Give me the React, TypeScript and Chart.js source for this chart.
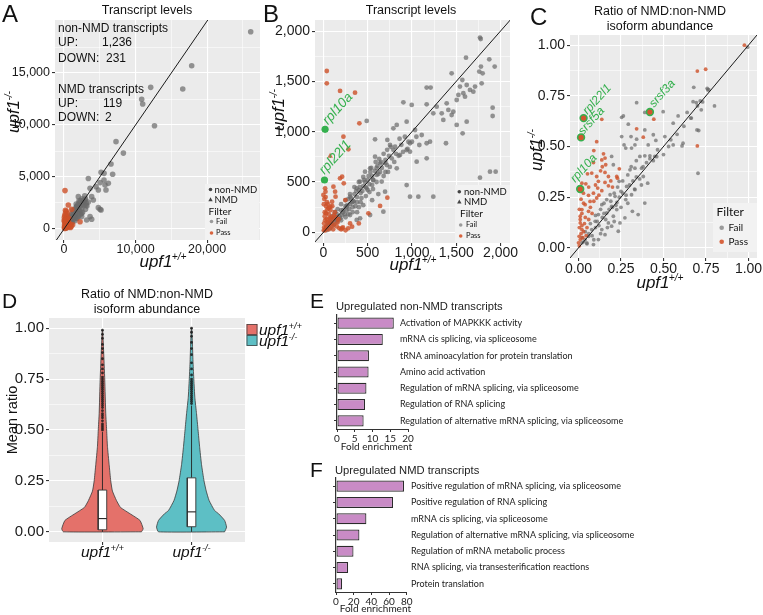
import React, { useEffect, useRef } from "react";
import { Chart, registerables } from "chart.js";

Chart.register(...registerables);

const PAGE_W = 763;
const PAGE_H = 615;
const CW = 820;
const CH = 660;
const FONT = "'Liberation Sans', Arial, Helvetica, sans-serif";
const LFONT = "Lato, 'Open Sans', 'Liberation Sans', sans-serif";
Chart.defaults.font.family = FONT;

const GRAY = "rgba(105,105,105,0.7)";
const ORANGE = "rgba(205,80,40,0.8)";
const GREEN = "#35B04E";
const PANEL_BG = "#EBEBEB";
const BAR = "#C98BC6";

// ---------------- Panel A : transcript levels (full range)
const aXMajor = [0, 10000, 20000];
const aXMinor = [5000, 15000, 25000];
const aYMajor = [0, 5000, 10000, 15000];
const aYMinor = [2500, 7500, 12500, 17500];
const aIdentity = [[-3000, -3000], [40000, 40000]];
const aFail = [[26100,18970],[17850,15700],[12120,13620],[16600,13460],[10860,12470],[11000,12020],[12650,9930],[7270,8400],[8300,7300],[6570,6250],[5600,5350],[5180,5450],[6800,5260],[3400,4850],[5590,4710],[5040,4460],[5730,4230],[6200,4390],[4480,4070],[3640,3910],[4800,3750],[5870,3750],[3870,3110],[4100,2790],[2940,2790],[2700,2790],[3080,2310],[4800,2050],[5040,1890],[5180,1830],[2000,3110],[1770,2150],[2470,1510],[1770,1830],[2470,1190],[3640,1190],[3170,870],[3870,930],[1770,1030],[840,870],[370,550],[200,250],[400,380],[600,520],[800,700],[1000,950],[1200,1100],[1400,1350],[1600,1500],[1800,1700],[2000,1900],[2200,2100],[2400,2300],[2600,2500],[2800,2700],[3000,2900],[500,700],[700,900],[900,1200],[1100,1400],[1300,1600],[1500,1900],[1700,2100],[1900,2300],[2100,2500],[2300,2700],[1000,700],[1300,900],[1600,1200],[1900,1500],[2200,1700],[2500,2000],[2800,2300],[3100,2500],[700,400],[1000,500],[1500,800],[2000,1200],[2600,1600],[3200,2200],[3400,2600],[2900,3200],[2500,2900],[2100,2700],[1700,2400],[1200,1800],[800,1300],[300,150],[150,80],[1150,650],[1800,1000],[2300,1400],[3000,1900]];
const aPass = [[140,3690],[1070,1890],[2240,700],[600,2300],[300,1700],[200,1500],[100,1300],[400,1200],[250,1000],[150,900],[500,950],[350,800],[100,700],[600,700],[200,600],[450,550],[300,450],[80,400],[150,300],[500,300],[250,200],[50,150],[700,200],[350,100],[100,50],[900,150],[600,450],[800,500],[50,1100],[200,1800],[500,1500],[20,800],[700,1000],[400,300],[1200,400],[1000,250]];
const aSummary = [
  ["non-NMD transcripts", ""],
  ["UP:", "1,236"],
  ["DOWN:", "231"],
  ["NMD transcripts", ""],
  ["UP:", "119"],
  ["DOWN:", "2"],
];

// ---------------- Panel B : transcript levels (zoom)
const bMajor = [0, 500, 1000, 1500, 2000];
const bMinor = [250, 750, 1250, 1750];
const bIdentity = [[-300, -300], [2500, 2500]];
const bFail = [[1768,1935],[1776,1921],[1610,1736],[1873,1719],[1934,1647],[1448,1580],[1779,1647],[1760,1597],[1798,1580],[1569,1514],[1787,1481],[1618,1464],[1542,1448],[1712,1448],[1655,1415],[1580,1382],[1524,1365],[1693,1398],[1599,1348],[1505,1315],[1392,1282],[1467,1199],[1166,1438],[1211,1438],[903,1292],[997,1266],[1166,1272],[1279,1249],[1336,1183],[1241,1183],[1411,1216],[1448,1166],[1354,1117],[1911,1239],[1911,1156],[1881,603],[1945,603],[1768,543],[1572,984],[1505,1067],[1618,1100],[1384,885],[489,1107],[583,924],[722,918],[790,1034],[828,1067],[940,1100],[1035,1017],[1110,967],[1166,885],[1204,901],[1083,868],[752,868],[809,851],[940,818],[978,802],[865,769],[978,885],[771,735],[1053,702],[1166,735],[715,669],[828,636],[940,470],[1072,354],[1241,354],[696,404],[583,752],[640,686],[527,636],[470,603],[602,570],[564,520],[658,504],[414,504],[489,437],[376,437],[301,354],[339,305],[263,255],[226,222],[301,172],[376,123],[188,139],[113,73],[150,106],[75,40],[38,23],[414,139],[527,172],[677,205],[978,354],[250,260],[300,280],[200,220],[350,380],[400,420],[450,460],[500,520],[550,560],[600,640],[650,700],[700,720],[280,330],[320,300],[380,350],[420,390],[480,450],[520,480],[560,520],[620,580],[150,180],[180,160],[220,200],[120,140],[80,100],[60,70],[100,90],[140,120],[260,220],[340,310],[440,410],[470,500],[530,600],[580,610],[610,660],[660,640],[700,690],[740,760],[790,820],[820,780],[880,870],[860,930],[920,950],[960,900],[640,600],[300,380],[350,450],[400,500],[450,550],[380,300],[430,340],[500,420],[550,470],[600,500],[250,320],[200,280],[160,230],[240,180],[290,230],[330,250],[360,260],[420,300],[480,360],[520,400],[560,430],[170,130],[210,170],[270,270],[310,340],[370,410],[410,450],[460,520],[510,560],[540,640],[590,700],[630,730],[680,780],[720,820],[760,850],[700,600],[750,650],[800,700],[850,760],[900,800],[950,830],[1000,900],[1050,950],[680,560],[730,600],[100,160],[130,200],[90,130],[50,90],[30,50],[200,120],[250,150],[330,200],[280,180],[400,250],[450,270],[550,320],[620,380],[380,200]];
const bPass = [[38,1603],[38,1481],[188,1405],[357,1388],[406,1083],[226,951],[282,825],[188,537],[113,454],[19,437],[132,404],[0,371],[640,262],[508,189],[722,344],[301,89],[211,553],[230,487],[23,404],[98,304],[137,354],[79,255],[248,321],[211,40],[324,56],[400,89],[10,50],[20,120],[15,200],[30,260],[40,300],[25,350],[60,180],[80,220],[50,100],[90,150],[5,20],[35,60],[70,90],[100,120],[120,80],[150,60],[180,40],[200,30],[220,50],[60,30],[5,280],[10,330],[45,230],[15,160],[100,260],[130,200],[60,240],[20,20],[110,30],[160,100],[140,150],[30,190],[70,140],[90,60],[120,170],[50,280],[8,90],[40,130],[170,130],[250,20],[280,40]];
const bPassNmd = [[76,758]];
const bGreen = [[19,1024],[12,520]];
const bGreenNames = ["rpl10a", "rpl22l1"];

// ---------------- Panel C : NMD:non-NMD ratio scatter
const cMajor = [0, 0.25, 0.5, 0.75, 1];
const cMinor = [0.125, 0.375, 0.625, 0.875];
const cIdentity = [[-0.2, -0.2], [1.2, 1.2]];
const cFail = [[0.995,0.99],[0.678,0.792],[0.757,0.787],[0.766,0.78],[0.674,0.721],[0.716,0.725],[0.693,0.716],[0.8,0.7],[0.722,0.681],[0.342,0.716],[0.39,0.668],[0.498,0.672],[0.586,0.651],[0.557,0.615],[0.639,0.668],[0.664,0.64],[0.697,0.582],[0.707,0.579],[0.254,0.644],[0.264,0.651],[0.293,0.61],[0.254,0.549],[0.309,0.549],[0.342,0.536],[0.332,0.508],[0.278,0.492],[0.312,0.492],[0.39,0.582],[0.44,0.558],[0.455,0.53],[0.508,0.549],[0.41,0.508],[0.39,0.454],[0.42,0.454],[0.449,0.451],[0.615,0.516],[0.609,0.503],[0.557,0.508],[0.543,0.533],[0.465,0.484],[0.361,0.451],[0.195,0.451],[0.205,0.41],[0.371,0.393],[0.303,0.385],[0.332,0.393],[0.381,0.352],[0.407,0.319],[0.268,0.508],[0.703,0.368],[0.239,0.328],[0.283,0.303],[0.25,0.279],[0.312,0.262],[0.332,0.287],[0.278,0.238],[0.317,0.18],[0.186,0.262],[0.215,0.254],[0.166,0.238],[0.137,0.213],[0.195,0.205],[0.225,0.189],[0.166,0.172],[0.117,0.164],[0.098,0.131],[0.205,0.156],[0.244,0.123],[0.234,0.082],[0.195,0.107],[0.137,0.09],[0.078,0.09],[0.059,0.057],[0.039,0.041],[0.02,0.025],[0.117,0.041],[0.088,0.016],[0.156,0.065],[0.049,0.024],[0.176,0.123],[0.273,0.148],[0.351,0.164],[0.39,0.221],[0.226,0.224],[0.03,0.03],[0.06,0.07],[0.08,0.06],[0.1,0.1],[0.12,0.11],[0.14,0.15],[0.16,0.14],[0.18,0.19],[0.2,0.2],[0.22,0.21],[0.24,0.25],[0.26,0.27],[0.28,0.26],[0.3,0.31],[0.32,0.33],[0.34,0.35],[0.36,0.34],[0.38,0.4],[0.4,0.42],[0.42,0.44],[0.44,0.43],[0.46,0.45],[0.07,0.12],[0.1,0.16],[0.13,0.19],[0.15,0.22],[0.19,0.23],[0.21,0.27],[0.23,0.3],[0.26,0.33],[0.29,0.36],[0.31,0.4],[0.34,0.43],[0.05,0.02],[0.09,0.04],[0.13,0.07],[0.17,0.1],[0.21,0.13],[0.25,0.2],[0.29,0.22],[0.33,0.29],[0.37,0.31],[0.5,0.46],[0.53,0.5],[0.58,0.56],[0.62,0.6],[0.66,0.64],[0.7,0.7],[0.73,0.72],[0.76,0.78],[0.11,0.13],[0.15,0.17],[0.02,0.05],[0.04,0.08]];
const cPass = [[0.976,1.0],[0.699,0.872],[0.748,0.881],[0.699,0.503],[0.443,0.635],[0.342,0.587],[0.381,0.546],[0.137,0.634],[0.107,0.524],[0.147,0.464],[0.156,0.443],[0.137,0.434],[0.088,0.421],[0.078,0.369],[0.053,0.365],[0.156,0.372],[0.107,0.352],[0.176,0.352],[0.225,0.352],[0.229,0.344],[0.117,0.328],[0.156,0.323],[0.176,0.306],[0.043,0.316],[0.02,0.319],[0.113,0.295],[0.088,0.27],[0.137,0.282],[0.059,0.259],[0.029,0.27],[0.107,0.246],[0.068,0.229],[0.039,0.213],[0.02,0.189],[0.059,0.18],[0.01,0.156],[0.01,0.123],[0.02,0.09],[0.004,0.057],[0,0.025],[0.005,0.01],[0.01,0.04],[0.015,0.07],[0.005,0.1],[0.02,0.11],[0.01,0.14],[0.02,0.17],[0.005,0.19],[0.025,0.05],[0.03,0.08],[0.035,0.12],[0.04,0.15],[0.045,0.06],[0.05,0.1],[0.03,0.22],[0.015,0.24],[0.06,0.14],[0.07,0.2],[0.08,0.17],[0.09,0.23],[0.12,0.26],[0.1,0.31],[0.13,0.38],[0.09,0.48],[0.16,0.41],[0.19,0.33],[0.2,0.3],[0.14,0.4],[0.24,0.39],[0.06,0.3]];
const cGreen = [[0.03,0.64],[0.015,0.545],[0.01,0.29],[0.42,0.67]];
const cGreenNames = ["rpl22l1", "srsf5a", "rpl10a", "srsf3a"];

// ---------------- Panel D : violin of mean ratio
const dGroups = ["+/+", "-/-"];
const dGroupPos = [1, 2];
const dWtY = [0, 0.015, 0.056, 0.089, 0.12, 0.154, 0.2, 0.25, 0.33, 0.42, 0.5, 0.58, 0.745, 0.91, 0.99];
const dWtHalf = [0.438, 0.457, 0.421, 0.309, 0.202, 0.157, 0.112, 0.093, 0.075, 0.056, 0.047, 0.037, 0.026, 0.011, 0.002];
const dMuY = [0, 0.023, 0.056, 0.089, 0.105, 0.154, 0.2, 0.25, 0.33, 0.42, 0.5, 0.58, 0.66, 0.745, 0.83, 0.91, 1.0];
const dMuHalf = [0.371, 0.393, 0.371, 0.303, 0.258, 0.197, 0.165, 0.14, 0.112, 0.09, 0.073, 0.056, 0.037, 0.026, 0.017, 0.011, 0.002];
// [lower whisker, q1, median, q3, upper whisker]
const dWtBox = [0.0, 0.01, 0.065, 0.205, 0.49];
const dMuBox = [0.0, 0.025, 0.098, 0.265, 0.62];
const dWtOut = [0.5,0.51,0.52,0.53,0.545,0.56,0.57,0.58,0.595,0.61,0.62,0.63,0.64,0.65,0.66,0.67,0.68,0.69,0.7,0.71,0.72,0.73,0.74,0.75,0.76,0.78,0.8,0.82,0.85,0.88,0.9,0.92,0.95,0.97,0.99];
const dMuOut = [0.63,0.64,0.65,0.66,0.67,0.68,0.69,0.7,0.71,0.72,0.73,0.74,0.75,0.77,0.8,0.83,0.87,0.9,0.93,0.96,0.98,1.0];
const dColors = ["#E4716A", "#5DBFC5"];

// ---------------- Panel E / F : GO enrichment
const eLabels = ["Activation of MAPKKK activity","mRNA cis splicing, via spliceosome","tRNA aminoacylation for protein translation","Amino acid activation","Regulation of mRNA splicing, via spliceosome","Regulation of RNA splicing","Regulation of alternative mRNA splicing, via spliceosome"];
const eValues = [16.0, 12.9, 9.0, 8.9, 8.3, 7.9, 7.5];
const eTicks = [0, 5, 10, 15, 20];
const fLabels = ["Positive regulation of mRNA splicing, via spliceosome","Positive regulation of RNA splicing","mRNA cis splicing, via spliceosome","Regulation of alternative mRNA splicing, via spliceosome","Regulation of mRNA metabolic process","RNA splicing, via transesterification reactions","Protein translation"];
const fValues = [77, 64.5, 34.4, 26.5, 19.8, 13.7, 6.9];
const fTicks = [0, 20, 40, 60, 80];

// ---------------- helpers
const P = (a: number[][]) => a.map(([x, y]) => ({ x, y }));
const fmtK = (v: number) => v.toLocaleString("en-US");
const fmt2 = (v: number) => v.toFixed(2);

function fnt(size: number, italic = false, bold = false, family = FONT) {
  return `${italic ? "italic " : ""}${bold ? "bold " : ""}${size}px ${family}`;
}
function text(ctx: any, s: string, x: number, y: number, size: number, o: any = {}) {
  ctx.save();
  ctx.font = fnt(size, o.italic, o.bold, o.family || FONT);
  ctx.fillStyle = o.color || "#111";
  ctx.textAlign = o.align || "left";
  ctx.textBaseline = o.base || "middle";
  ctx.translate(x, y);
  if (o.rot) ctx.rotate(o.rot);
  ctx.fillText(s, 0, 0);
  ctx.restore();
}
function supText(ctx: any, base: string, sup: string, x: number, y: number, size: number, o: any = {}) {
  ctx.save();
  const f1 = fnt(size, true, false, o.family || FONT);
  const ss = size * 0.6;
  const f2 = fnt(ss, true, false, o.family || FONT);
  ctx.font = f1;
  const w1 = ctx.measureText(base).width;
  ctx.font = f2;
  const w2 = ctx.measureText(sup).width;
  const gap = -size * 0.04;
  const total = w1 + w2 + gap;
  ctx.translate(x, y);
  if (o.rot) ctx.rotate(o.rot);
  const x0 = o.align === "left" ? 0 : -total / 2;
  ctx.fillStyle = o.color || "#111";
  ctx.textAlign = "left";
  ctx.textBaseline = "alphabetic";
  ctx.font = f1;
  ctx.fillText(base, x0, size * 0.35);
  ctx.font = f2;
  ctx.fillText(sup, x0 + w1 + gap, size * 0.35 - size * 0.4);
  ctx.restore();
}
function dot(ctx: any, x: number, y: number, r: number, color: string) {
  ctx.save();
  ctx.fillStyle = color;
  ctx.beginPath();
  ctx.arc(x, y, r, 0, Math.PI * 2);
  ctx.fill();
  ctx.restore();
}
function tri(ctx: any, x: number, y: number, r: number, color: string) {
  ctx.save();
  ctx.fillStyle = color;
  ctx.beginPath();
  ctx.moveTo(x, y - r);
  ctx.lineTo(x + r, y + r * 0.8);
  ctx.lineTo(x - r, y + r * 0.8);
  ctx.closePath();
  ctx.fill();
  ctx.restore();
}
function rect(ctx: any, x: number, y: number, w: number, h: number, fill: string, stroke?: string) {
  ctx.save();
  ctx.fillStyle = fill;
  ctx.fillRect(x, y, w, h);
  if (stroke) {
    ctx.strokeStyle = stroke;
    ctx.lineWidth = 0.8;
    ctx.strokeRect(x + 0.5, y + 0.5, w - 1, h - 1);
  }
  ctx.restore();
}

type Area = { l: number; t: number; r: number; b: number };
function baseOptions(area: Area, yW: number, xH: number) {
  return {
    responsive: false,
    maintainAspectRatio: false,
    animation: false,
    devicePixelRatio: 1,
    events: [],
    layout: { padding: { left: area.l - yW, top: area.t, right: CW - area.r, bottom: CH - area.b - xH } },
    plugins: { legend: { display: false }, tooltip: { enabled: false }, title: { display: false } },
  };
}
function ggAxis(min: number, max: number, majors: number[], minors: number[], fmt: (v: number) => string, size: number, fit: number, vertical: boolean, pad = 2) {
  const all = [...majors, ...minors].sort((a, b) => a - b);
  const isMaj = (v: any) => majors.indexOf(v) >= 0;
  return {
    type: "linear",
    min,
    max,
    afterBuildTicks: (s: any) => {
      s.ticks = all.map((v) => ({ value: v }));
    },
    afterFit: (s: any) => {
      if (vertical) s.width = fit;
      else s.height = fit;
    },
    ticks: {
      autoSkip: false,
      maxRotation: 0,
      minRotation: 0,
      padding: pad,
      color: "#1a1a1a",
      font: { family: FONT, size },
      callback: (v: any) => (isMaj(v) ? fmt(v) : ""),
    },
    grid: {
      color: "#FFFFFF",
      lineWidth: (c: any) => (c.tick && isMaj(c.tick.value) ? 1.1 : 0.55),
      tickColor: (c: any) => (c.tick && isMaj(c.tick.value) ? "#333333" : "rgba(0,0,0,0)"),
      tickLength: 3,
      drawTicks: true,
    },
    border: { display: false },
  };
}
const bgPlugin = (color: string) => ({
  id: "panelBg",
  beforeDraw(chart: any) {
    const { ctx, chartArea: a } = chart;
    ctx.save();
    ctx.fillStyle = color;
    ctx.fillRect(a.left, a.top, a.right - a.left, a.bottom - a.top);
    ctx.restore();
  },
});
function dots(data: number[][], color: string, r: number, style = "circle", extra: any = {}) {
  return {
    data: P(data),
    pointRadius: r,
    pointStyle: style,
    pointBackgroundColor: color,
    pointBorderColor: color,
    pointBorderWidth: 0,
    showLine: false,
    ...extra,
  };
}
function lineDs(data: any[], color: string, width: number, extra: any = {}) {
  const d = data.map((p: any) => (Array.isArray(p) ? { x: p[0], y: p[1] } : p));
  return { data: d, showLine: true, pointRadius: 0, borderColor: color, borderWidth: width, fill: false, ...extra };
}

// ---------------- configs
function configA() {
  const area = { l: 55, t: 20, r: 260, b: 240 };
  return {
    type: "scatter",
    data: {
      datasets: [
        lineDs(aIdentity, "#1a1a1a", 1),
        dots(aPass, ORANGE, 2.8),
        dots(aFail, GRAY, 2.8),
      ],
    },
    options: {
      ...baseOptions(area, 55, 20),
      scales: {
        x: ggAxis(-1260, 27400, aXMajor, aXMinor, fmtK, 12.5, 20, false, -1),
        y: ggAxis(-1060, 20100, aYMajor, aYMinor, fmtK, 12.5, 55, true),
      },
    },
    plugins: [
      bgPlugin(PANEL_BG),
      {
        id: "decoA",
        afterDraw(chart: any) {
          const ctx = chart.ctx;
          text(ctx, "A", 2, 22, 24, { base: "alphabetic" });
          text(ctx, "Transcript levels", 147, 10.5, 12.5, { align: "center" });
          const ys = [28.5, 43, 58.5, 89.5, 103.5, 118];
          const vx = [0, 102, 106, 0, 103, 105];
          aSummary.forEach((row, i) => {
            text(ctx, row[0], 58, ys[i], 12);
            if (row[1]) text(ctx, row[1], vx[i], ys[i], 12);
          });
          rect(ctx, 205, 184, 54, 56, "#F2F2F2");
          dot(ctx, 210.5, 189.5, 1.8, "#444");
          text(ctx, "non-NMD", 214.5, 189.5, 9.5, { family: LFONT });
          tri(ctx, 210.5, 199.5, 2.2, "#444");
          text(ctx, "NMD", 214.5, 199.5, 9.5, { family: LFONT });
          text(ctx, "Filter", 208.5, 211.5, 10, { family: LFONT });
          dot(ctx, 211.5, 221.5, 1.8, "#9a9a9a");
          text(ctx, "Fail", 216, 221.5, 7.5, { family: LFONT });
          dot(ctx, 211.5, 233, 1.8, "#D8643F");
          text(ctx, "Pass", 216, 233, 7.5, { family: LFONT });
          supText(ctx, "upf1", "-/-", 13, 112, 17, { rot: -Math.PI / 2 });
          supText(ctx, "upf1", "+/+", 163, 261, 17);
        },
      },
    ],
  };
}

function configB() {
  const area = { l: 315, t: 20, r: 510, b: 243 };
  const offs = [[3, -4], [0, -5]];
  return {
    type: "scatter",
    data: {
      datasets: [
        dots(bGreen, GREEN, 3.6),
        lineDs(bIdentity, "#1a1a1a", 1),
        dots(bPassNmd, ORANGE, 3.2, "triangle"),
        dots(bPass, ORANGE, 2.4),
        dots(bFail, GRAY, 2.4),
      ],
    },
    options: {
      ...baseOptions(area, 55, 20),
      scales: {
        x: ggAxis(-95, 2107, bMajor, bMinor, fmtK, 14, 20, false, -1),
        y: ggAxis(-106, 2110, bMajor, bMinor, fmtK, 14, 55, true),
      },
    },
    plugins: [
      bgPlugin(PANEL_BG),
      {
        id: "decoB",
        afterDraw(chart: any) {
          const ctx = chart.ctx;
          const { x, y } = chart.scales;
          text(ctx, "B", 263, 22, 24, { base: "alphabetic" });
          text(ctx, "Transcript levels", 411, 10.5, 12.5, { align: "center" });
          bGreen.forEach(([vx, vy], i) => {
            text(ctx, bGreenNames[i], x.getPixelForValue(vx) + offs[i][0], y.getPixelForValue(vy) + offs[i][1], 13.5, {
              italic: true, color: GREEN, rot: -0.84, base: "alphabetic",
            });
          });
          rect(ctx, 455, 185, 55, 58, "#F2F2F2");
          dot(ctx, 459.3, 191.7, 1.8, "#444");
          text(ctx, "non-NMD", 464, 191.7, 9.5, { family: LFONT });
          tri(ctx, 459.3, 201.7, 2.2, "#444");
          text(ctx, "NMD", 464, 201.7, 9.5, { family: LFONT });
          text(ctx, "Filter", 460, 213.3, 10, { family: LFONT });
          dot(ctx, 460.7, 225, 1.8, "#9a9a9a");
          text(ctx, "Fail", 466, 225, 7.5, { family: LFONT });
          dot(ctx, 460.7, 236, 1.8, "#D8643F");
          text(ctx, "Pass", 466, 236, 7.5, { family: LFONT });
          supText(ctx, "upf1", "-/-", 278, 110, 17, { rot: -Math.PI / 2 });
          supText(ctx, "upf1", "+/+", 413, 264, 17);
        },
      },
    ],
  };
}

function configC() {
  const area = { l: 570, t: 35, r: 757, b: 258 };
  const offs = [[4, -3], [2, -2], [-5, -6], [4, -4]];
  return {
    type: "scatter",
    data: {
      datasets: [
        dots(cGreen, "#D2562F", 3.4, "circle", { pointBorderColor: GREEN, pointBorderWidth: 1.6 }),
        lineDs(cIdentity, "#1a1a1a", 1),
        dots(cPass, ORANGE, 1.9),
        dots(cFail, GRAY, 1.9),
      ],
    },
    options: {
      ...baseOptions(area, 50, 20),
      scales: {
        x: ggAxis(-0.05, 1.05, cMajor, cMinor, fmt2, 14, 20, false, 0),
        y: ggAxis(-0.05, 1.05, cMajor, cMinor, fmt2, 14, 50, true),
      },
    },
    plugins: [
      bgPlugin(PANEL_BG),
      {
        id: "decoC",
        afterDraw(chart: any) {
          const ctx = chart.ctx;
          const { x, y } = chart.scales;
          text(ctx, "C", 530, 25, 24, { base: "alphabetic" });
          text(ctx, "Ratio of NMD:non-NMD", 660, 12, 12.5, { align: "center" });
          text(ctx, "isoform abundance", 660, 26.5, 12.5, { align: "center" });
          cGreen.forEach(([vx, vy], i) => {
            text(ctx, cGreenNames[i], x.getPixelForValue(vx) + offs[i][0], y.getPixelForValue(vy) + offs[i][1], 12, {
              italic: true, color: GREEN, rot: -0.84, base: "alphabetic",
            });
          });
          rect(ctx, 713, 203, 44, 49, "#F2F2F2");
          text(ctx, "Filter", 716.5, 211.7, 12, { family: LFONT });
          dot(ctx, 721.7, 227.7, 2.3, "#9a9a9a");
          text(ctx, "Fail", 728.5, 227.7, 10, { family: LFONT });
          dot(ctx, 721.7, 241.7, 2.3, "#D8643F");
          text(ctx, "Pass", 728.5, 241.7, 10, { family: LFONT });
          supText(ctx, "upf1", "-/-", 536, 150, 17, { rot: -Math.PI / 2 });
          supText(ctx, "upf1", "+/+", 660, 282, 17);
        },
      },
    ],
  };
}

function violinPoly(center: number, ys: number[], hs: number[]) {
  const pts: { x: number; y: number }[] = [];
  for (let i = 0; i < ys.length; i++) pts.push({ x: center + hs[i], y: ys[i] });
  for (let i = ys.length - 1; i >= 0; i--) pts.push({ x: center - hs[i], y: ys[i] });
  pts.push(pts[0]);
  return pts;
}
function boxDatasets(center: number, box: number[], outliers: number[]) {
  const bw = 0.048;
  const [lo, q1, med, q3, hi] = box;
  return [
    dots(outliers.map((v) => [center, v]), "rgba(25,25,25,0.85)", 1.4),
    lineDs([[center - bw, med], [center + bw, med]], "#222", 1.1),
    lineDs([[center - bw, q1], [center + bw, q1], [center + bw, q3], [center - bw, q3], [center - bw, q1]], "#333", 0.9, {
      fill: "shape", backgroundColor: "#FFFFFF",
    }),
    lineDs([[center, q3], [center, hi]], "#222", 0.9),
    lineDs([[center, lo], [center, q1]], "#222", 0.9),
  ];
}

function configD() {
  const area = { l: 49, t: 318, r: 245, b: 542 };
  return {
    type: "scatter",
    data: {
      datasets: [
        ...boxDatasets(dGroupPos[0], dWtBox, dWtOut),
        ...boxDatasets(dGroupPos[1], dMuBox, dMuOut),
        lineDs(violinPoly(dGroupPos[0], dWtY, dWtHalf), "#3a3a3a", 0.8, { fill: "shape", backgroundColor: dColors[0], tension: 0.15 }),
        lineDs(violinPoly(dGroupPos[1], dMuY, dMuHalf), "#3a3a3a", 0.8, { fill: "shape", backgroundColor: dColors[1], tension: 0.15 }),
      ],
    },
    options: {
      ...baseOptions(area, 49, 20),
      scales: {
        x: {
          type: "linear",
          min: 0.4,
          max: 2.6,
          afterBuildTicks: (s: any) => {
            s.ticks = dGroupPos.map((v) => ({ value: v }));
          },
          afterFit: (s: any) => {
            s.height = 20;
          },
          ticks: { callback: () => "", autoSkip: false },
          grid: { color: "#FFFFFF", lineWidth: 1.1, tickColor: "#333", tickLength: 3 },
          border: { display: false },
        },
        y: ggAxis(-0.05, 1.05, cMajor, cMinor, fmt2, 15, 49, true),
      },
    },
    plugins: [
      bgPlugin(PANEL_BG),
      {
        id: "decoD",
        afterDraw(chart: any) {
          const ctx = chart.ctx;
          const { x } = chart.scales;
          text(ctx, "D", 2, 308, 21, { base: "alphabetic" });
          text(ctx, "Ratio of NMD:non-NMD", 147, 295, 12.5, { align: "center" });
          text(ctx, "isoform abundance", 147, 309.5, 12.5, { align: "center" });
          text(ctx, "Mean ratio", 12.5, 420, 14.5, { align: "center", rot: -Math.PI / 2 });
          dGroups.forEach((g, i) => {
            supText(ctx, "upf1", g, x.getPixelForValue(dGroupPos[i]), 552, 15.5);
          });
          rect(ctx, 246.5, 324, 11, 11, dColors[0], "#444");
          rect(ctx, 246.5, 335, 11, 11, dColors[1], "#444");
          supText(ctx, "upf1", dGroups[0], 259, 329.5, 15.5, { align: "left" });
          supText(ctx, "upf1", dGroups[1], 259, 340.5, 15.5, { align: "left" });
        },
      },
    ],
  };
}

function barConfig(letter: string, letterY: number, title: string, titleX: number, titleY: number, labels: string[], values: number[], ticks: number[], area: Area, labelX: number, foldY: number) {
  return {
    type: "bar",
    data: {
      labels,
      datasets: [
        {
          data: values,
          backgroundColor: BAR,
          borderColor: "#2b2b2b",
          borderWidth: 1.2,
          borderSkipped: false,
          barPercentage: 0.68,
          categoryPercentage: 1,
        },
      ],
    },
    options: {
      ...baseOptions(area, 4, 14),
      indexAxis: "y",
      scales: {
        x: {
          type: "linear",
          min: ticks[0],
          max: ticks[ticks.length - 1],
          afterBuildTicks: (s: any) => {
            s.ticks = ticks.map((v) => ({ value: v }));
          },
          afterFit: (s: any) => {
            s.height = 14;
          },
          ticks: { autoSkip: false, maxRotation: 0, padding: 1, color: "#222", font: { family: LFONT, size: 10 } },
          grid: { drawOnChartArea: false, tickLength: 3, tickColor: "#333", offset: false },
          border: { display: true, color: "#333", width: 1 },
        },
        y: {
          type: "category",
          afterFit: (s: any) => {
            s.width = 4;
          },
          ticks: { display: false },
          grid: { drawOnChartArea: false, offset: false, tickLength: 3, tickColor: "#333" },
          border: { display: true, color: "#333", width: 1.2 },
        },
      },
    },
    plugins: [
      {
        id: "deco" + letter,
        afterDraw(chart: any) {
          const ctx = chart.ctx;
          const ys = chart.scales.y;
          text(ctx, letter, 310, letterY, 21, { base: "alphabetic" });
          text(ctx, title, titleX, titleY, 11.2, { color: "#222" });
          labels.forEach((l, i) => {
            text(ctx, l, labelX, ys.getPixelForValue(i), 9, { family: LFONT, color: "#222" });
          });
          text(ctx, "Fold enrichment", (area.l + area.r) / 2 + 4, foldY, 10, { family: LFONT, color: "#222", align: "center" });
        },
      },
    ],
  };
}
const configE = () =>
  barConfig("E", 308, "Upregulated non-NMD transcripts", 336, 307, eLabels, eValues, eTicks, { l: 337, t: 315, r: 408, b: 429 }, 400, 447);
const configF = () =>
  barConfig("F", 477, "Upregulated NMD transcripts", 335, 471, fLabels, fValues, fTicks, { l: 336, t: 478, r: 406.7, b: 592 }, 411, 609);

function ChartCanvas({ make }: { make: () => any }) {
  const ref = useRef<HTMLCanvasElement | null>(null);
  useEffect(() => {
    const chart = new Chart(ref.current as HTMLCanvasElement, make() as any);
    return () => chart.destroy();
  }, []);
  return (
    <canvas
      ref={ref}
      width={CW}
      height={CH}
      style={{ position: "absolute", left: 0, top: 0, width: CW, height: CH }}
    />
  );
}

export default function App() {
  return (
    <div
      style={{
        position: "absolute",
        left: 0,
        top: 0,
        width: PAGE_W,
        height: PAGE_H,
        background: "#FFFFFF",
        overflow: "hidden",
      }}
    >
      <ChartCanvas make={configD} />
      <ChartCanvas make={configE} />
      <ChartCanvas make={configF} />
      <ChartCanvas make={configA} />
      <ChartCanvas make={configB} />
      <ChartCanvas make={configC} />
    </div>
  );
}
